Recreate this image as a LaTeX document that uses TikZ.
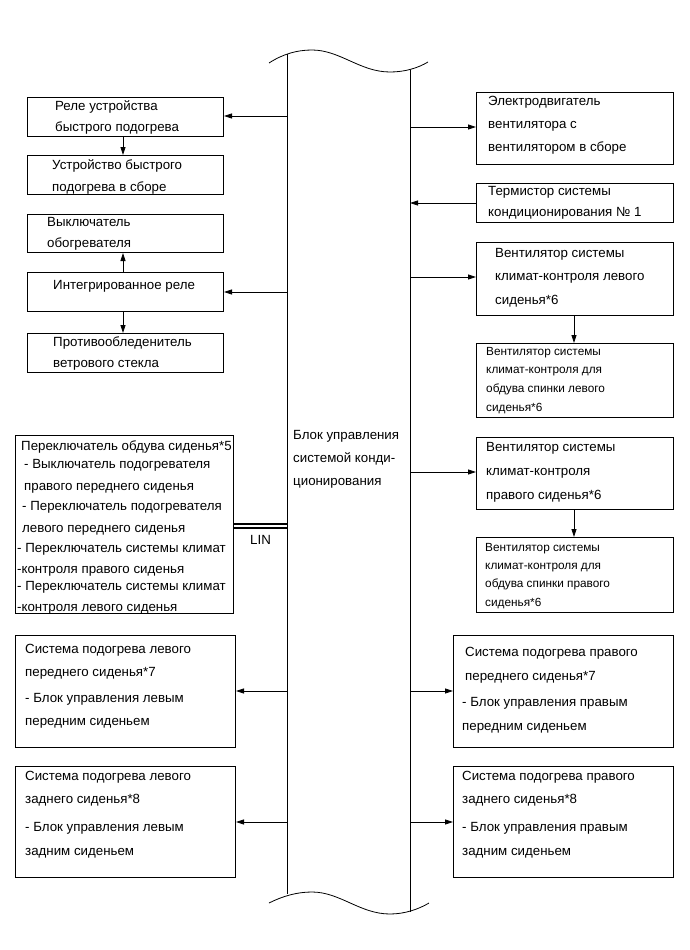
\documentclass[tikz,border=0pt]{standalone}
\usepackage{fontspec}
\setmainfont{Liberation Sans}
\usetikzlibrary{arrows.meta}
\begin{document}
\begin{tikzpicture}[x=1pt,y=-1pt,
  box/.style={draw, line width=1pt, inner sep=0pt, anchor=north west},
  tl/.style={anchor=west, inner sep=0pt, font=\fontsize{13.3}{16}\selectfont, text height=10pt, text depth=3pt},
  ts/.style={anchor=west, inner sep=0pt, font=\fontsize{11.8}{14}\selectfont, text height=9pt, text depth=2.6pt},
  arr/.style={line width=0.8pt, -{Triangle[length=8pt,width=5pt]}},
  col/.style={line width=1pt},
  wave/.style={line width=0.8pt}]
\useasboundingbox (0,0) rectangle (689,950);

% central column
\coordinate (ctl) at (287,54);
\coordinate (cbl) at (287,894);
\coordinate (ctr) at (410,70);
\coordinate (cbr) at (410,912);
\draw[col] (ctl) -- (cbl);
\draw[col] (ctr) -- (cbr);
\draw[wave] (269,63) .. controls (283,54) and (297,50) .. (312,50)
  .. controls (340,50) and (360,72) .. (390,72)
  .. controls (405,72) and (418,68) .. (428,62);
\draw[wave] (269,903) .. controls (283,896) and (297,892) .. (312,892)
  .. controls (340,892) and (360,914) .. (390,914)
  .. controls (405,914) and (419,909) .. (429,903);
\node[tl] (c1) at (293,436) {Блок управления};
\node[tl] (c2) at (293,459) {системой конди-};
\node[tl] (c3) at (293,482) {ционирования};

% left upper boxes
\node[box, minimum width=196pt, minimum height=39pt] (L1) at (27,97) {};
\node[tl] (L1a) at (55,107) {Реле устройства};
\node[tl] (L1b) at (55,128) {быстрого подогрева};
\node[box, minimum width=196pt, minimum height=39pt] (L2) at (27,155) {};
\node[tl] (L2a) at (52,166) {Устройство быстрого};
\node[tl] (L2b) at (52,188) {подогрева в сборе};
\node[box, minimum width=196pt, minimum height=38pt] (L3) at (27,214) {};
\node[tl] (L3a) at (47,223) {Выключатель};
\node[tl] (L3b) at (47,244) {обогревателя};
\node[box, minimum width=196pt, minimum height=39pt] (L4) at (27,272) {};
\node[tl] (L4a) at (53,286) {Интегрированное реле};
\node[box, minimum width=196pt, minimum height=39pt] (L5) at (27,333) {};
\node[tl] (L5a) at (53,343) {Противообледенитель};
\node[tl] (L5b) at (53,364) {ветрового стекла};

\coordinate (a1) at (287,116);
\coordinate (a4) at (287,292);
\draw[arr] (a1) -- (a1 -| L1.east);
\draw[arr] (a4) -- (a4 -| L4.east);
\draw[arr] (L1.south -| 123,0) -- (L2.north -| 123,0);
\draw[arr] (L4.north -| 123,0) -- (L3.south -| 123,0);
\draw[arr] (L4.south -| 123,0) -- (L5.north -| 123,0);

% right upper boxes
\node[box, minimum width=197pt, minimum height=72pt] (R1) at (476,92) {};
\node[tl] (R1a) at (488,102) {Электродвигатель};
\node[tl] (R1b) at (488,125) {вентилятора с};
\node[tl] (R1c) at (488,148) {вентилятором в сборе};
\node[box, minimum width=197pt, minimum height=39pt] (R2) at (476,183) {};
\node[tl] (R2a) at (488,192) {Термистор системы};
\node[tl] (R2b) at (488,213) {кондиционирования № 1};
\node[box, minimum width=197pt, minimum height=73pt] (R3) at (476,242) {};
\node[tl] (R3a) at (495,254) {Вентилятор системы};
\node[tl] (R3b) at (495,277) {климат-контроля левого};
\node[tl] (R3c) at (495,301) {сиденья*6};
\node[box, minimum width=197pt, minimum height=74pt] (R4) at (476,343) {};
\node[ts] (R4a) at (486,352) {Вентилятор системы};
\node[ts] (R4b) at (486,370) {климат-контроля для};
\node[ts] (R4c) at (486,389) {обдува спинки левого};
\node[ts] (R4d) at (486,408) {сиденья*6};
\node[box, minimum width=197pt, minimum height=72pt] (R5) at (476,437) {};
\node[tl] (R5a) at (486,448) {Вентилятор системы};
\node[tl] (R5b) at (486,472) {климат-контроля};
\node[tl] (R5c) at (486,496) {правого сиденья*6};
\node[box, minimum width=197pt, minimum height=75pt] (R6) at (476,537) {};
\node[ts] (R6a) at (485,548) {Вентилятор системы};
\node[ts] (R6b) at (485,566) {климат-контроля для};
\node[ts] (R6c) at (485,584) {обдува спинки правого};
\node[ts] (R6d) at (485,603) {сиденья*6};

\coordinate (b1) at (410,127);
\coordinate (b2) at (410,203);
\coordinate (b3) at (410,277);
\coordinate (b5) at (410,472);
\draw[arr] (b1) -- (b1 -| R1.west);
\draw[arr] (b2 -| R2.west) -- (b2);
\draw[arr] (b3) -- (b3 -| R3.west);
\draw[arr] (b5) -- (b5 -| R5.west);
\draw[arr] (R3.south -| 574,0) -- (R4.north -| 574,0);
\draw[arr] (R5.south -| 574,0) -- (R6.north -| 574,0);

% LIN box
\node[box, minimum width=218pt, minimum height=178pt] (LB) at (15,435) {};
\node[tl] (LBa) at (21,447) {Переключатель обдува сиденья*5};
\node[tl] (LBb) at (24,465) {- Выключатель подогревателя};
\node[tl] (LBc) at (24,487) {правого переднего сиденья};
\node[tl] (LBd) at (22,507) {- Переключатель подогревателя};
\node[tl] (LBe) at (22,529) {левого переднего сиденья};
\node[tl] (LBf) at (17,549) {- Переключатель системы климат};
\node[tl] (LBg) at (17,570) {-контроля правого сиденья};
\node[tl] (LBh) at (17,587) {- Переключатель системы климат};
\node[tl] (LBi) at (17,608) {-контроля левого сиденья};
\coordinate (lin) at (287,526);
\draw[line width=2pt, double=white, double distance=2.5pt] (lin -| LB.east) -- (lin);
\node[tl] (LINl) at (250,541) {LIN};

% lower boxes
\node[box, minimum width=220pt, minimum height=112pt] (L7) at (15,635) {};
\node[tl] (L7a) at (25,650) {Система подогрева левого};
\node[tl] (L7b) at (25,673) {переднего сиденья*7};
\node[tl] (L7c) at (25,699) {- Блок управления левым};
\node[tl] (L7d) at (25,722) {передним сиденьем};
\node[box, minimum width=220pt, minimum height=111pt] (L8) at (15,766) {};
\node[tl] (L8a) at (25,777) {Система подогрева левого};
\node[tl] (L8b) at (25,800) {заднего сиденья*8};
\node[tl] (L8c) at (25,828) {- Блок управления левым};
\node[tl] (L8d) at (25,852) {задним сиденьем};
\node[box, minimum width=220pt, minimum height=112pt] (R7) at (453,635) {};
\node[tl] (R7a) at (465,653) {Система подогрева правого};
\node[tl] (R7b) at (465,677) {переднего сиденья*7};
\node[tl] (R7c) at (462,703) {- Блок управления правым};
\node[tl] (R7d) at (462,727) {передним сиденьем};
\node[box, minimum width=220pt, minimum height=111pt] (R8) at (453,766) {};
\node[tl] (R8a) at (462,777) {Система подогрева правого};
\node[tl] (R8b) at (462,800) {заднего сиденья*8};
\node[tl] (R8c) at (462,828) {- Блок управления правым};
\node[tl] (R8d) at (462,852) {задним сиденьем};

\coordinate (d1) at (287,691);
\coordinate (d2) at (287,822);
\coordinate (e1) at (410,691);
\coordinate (e2) at (410,822);
\draw[arr] (d1) -- (d1 -| L7.east);
\draw[arr] (d2) -- (d2 -| L8.east);
\draw[arr] (e1) -- (e1 -| R7.west);
\draw[arr] (e2) -- (e2 -| R8.west);
\end{tikzpicture}
\end{document}
